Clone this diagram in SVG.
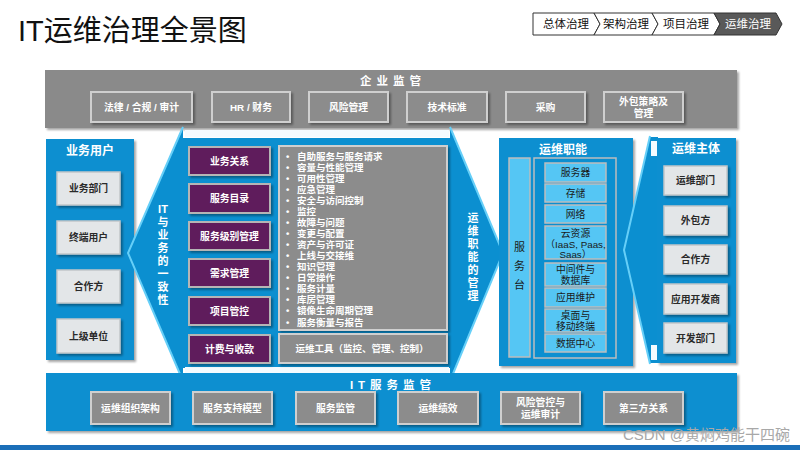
<svg xmlns="http://www.w3.org/2000/svg" width="800" height="450" viewBox="0 0 800 450">
<defs>
<filter id="sh" x="-10%" y="-10%" width="130%" height="130%">
<feDropShadow dx="2" dy="2" stdDeviation="1.2" flood-color="#000" flood-opacity="0.35"/>
</filter>
<style>
text{font-family:"Liberation Sans","Noto Sans CJK SC",sans-serif;}
.t{font-size:29px;fill:#111;}
.bc{fill:#fff;stroke:#333;stroke-width:1;}
.bcd{fill:#595959;stroke:#333;stroke-width:1;}
.bct{font-size:11.5px;fill:#111;text-anchor:middle;}
.blue{fill:#0b8fd0;}
.grayband{fill:#8a8a8a;}
.gbox{fill:#8c8c8c;stroke:#cfcfcf;stroke-width:2;}
.gtx{font-size:9.8px;fill:#fff;font-weight:bold;text-anchor:middle;}
.lbox{fill:#e3e6e8;stroke:#c2c6c9;stroke-width:1.5;}
.ltx{font-size:9.8px;fill:#2a2a2a;font-weight:bold;text-anchor:middle;}
.pbox{fill:#5e1c5c;stroke:#b5b5b5;stroke-width:2;}
.ptx{font-size:9.8px;fill:#fff;font-weight:bold;text-anchor:middle;}
.head{font-size:12px;fill:#fff;font-weight:bold;text-anchor:middle;}
.sp{font-size:11.5px;fill:#fff;font-weight:bold;text-anchor:middle;letter-spacing:5px;}
.vt{font-size:11px;fill:#fff;font-weight:bold;text-anchor:middle;}
.lst{font-size:9.5px;fill:#fff;font-weight:bold;}
.cbox{fill:#55c6f4;stroke:#bdbdbd;stroke-width:1.5;}
.ctx{font-size:9.8px;fill:#1a1a1a;text-anchor:middle;}
.edge{fill:none;stroke:#66cff8;stroke-width:2;}
</style>
</defs>

<text class="t" x="18" y="41">IT运维治理全景图</text>

<g id="breadcrumb">
<polygon class="bc" points="533,13 594,13 600,24 594,35 533,35"/>
<polygon class="bc" points="594,13 652,13 658,24 652,35 594,35 600,24"/>
<polygon class="bc" points="652,13 714,13 720,24 714,35 652,35 658,24"/>
<polygon class="bcd" points="714,13 776,13 782,24 776,35 714,35 720,24"/>
<text class="bct" x="566" y="28">总体治理</text>
<text class="bct" x="626" y="28">架构治理</text>
<text class="bct" x="686" y="28">项目治理</text>
<text class="bct" x="748" y="28" style="fill:#fff">运维治理</text>
</g>

<g id="enterprise">
<rect class="grayband" x="45" y="70" width="692" height="58" filter="url(#sh)"/>
<text class="sp" x="393" y="85">企业监管</text>
<g id="e1"><rect class="gbox" x="91" y="92" width="101" height="30" filter="url(#sh)"/><text class="gtx" x="141.5" y="110.5">法律 / 合规  / 审计</text></g>
<g id="e2"><rect class="gbox" x="212" y="92" width="78" height="30" filter="url(#sh)"/><text class="gtx" x="251" y="110.5">HR / 财务</text></g>
<g id="e3"><rect class="gbox" x="309" y="92" width="79" height="30" filter="url(#sh)"/><text class="gtx" x="348.5" y="110.5">风险管理</text></g>
<g id="e4"><rect class="gbox" x="407" y="92" width="80" height="30" filter="url(#sh)"/><text class="gtx" x="447" y="110.5">技术标准</text></g>
<g id="e5"><rect class="gbox" x="506" y="92" width="79" height="30" filter="url(#sh)"/><text class="gtx" x="545.5" y="110.5">采购</text></g>
<g id="e6"><rect class="gbox" x="604" y="92" width="79" height="30" filter="url(#sh)"/><text class="gtx" x="643.5" y="104.5">外包策略及</text><text class="gtx" x="643.5" y="116.5">管理</text></g>
</g>

<g id="bizusers">
<rect class="blue" x="46" y="139" width="88" height="221" filter="url(#sh)"/>
<text class="head" x="90" y="155">业务用户</text>
<g id="u1"><rect class="lbox" x="57" y="172" width="63" height="33" filter="url(#sh)"/><text class="ltx" x="88.5" y="192">业务部门</text></g>
<g id="u2"><rect class="lbox" x="57" y="221" width="63" height="33" filter="url(#sh)"/><text class="ltx" x="88.5" y="241">终端用户</text></g>
<g id="u3"><rect class="lbox" x="57" y="270" width="63" height="33" filter="url(#sh)"/><text class="ltx" x="88.5" y="290">合作方</text></g>
<g id="u4"><rect class="lbox" x="57" y="319" width="63" height="34" filter="url(#sh)"/><text class="ltx" x="88.5" y="339.5">上级单位</text></g>
</g>

<g id="center">
<polygon class="blue" points="183,128 128,253 183,380"/>
<rect class="blue" x="183" y="138" width="267" height="230"/>
<polygon class="blue" points="450,128 503,253 450,380"/>
<rect x="185" y="130" width="264" height="7" fill="#f4fbff"/>
<rect x="185" y="367" width="264" height="6" fill="#f4fbff"/>
<polyline class="edge" points="183,127 128,253 183,381"/>
<polyline class="edge" points="450,127 503,253 450,381"/>
<g id="vt1">
<text class="vt" x="163" y="213">IT</text>
<text class="vt" x="163" y="226">与</text>
<text class="vt" x="163" y="239">业</text>
<text class="vt" x="163" y="252">务</text>
<text class="vt" x="163" y="265">的</text>
<text class="vt" x="163" y="278">一</text>
<text class="vt" x="163" y="291">致</text>
<text class="vt" x="163" y="304">性</text>
</g>
<g id="vt2">
<text class="vt" x="473" y="222">运</text>
<text class="vt" x="473" y="235">维</text>
<text class="vt" x="473" y="248">职</text>
<text class="vt" x="473" y="261">能</text>
<text class="vt" x="473" y="274">的</text>
<text class="vt" x="473" y="287">管</text>
<text class="vt" x="473" y="300">理</text>
</g>
<g id="p1"><rect class="pbox" x="189" y="147" width="81" height="28" filter="url(#sh)"/><text class="ptx" x="229.5" y="164.5">业务关系</text></g>
<g id="p2"><rect class="pbox" x="189" y="184" width="81" height="29" filter="url(#sh)"/><text class="ptx" x="229.5" y="202">服务目录</text></g>
<g id="p3"><rect class="pbox" x="189" y="222" width="81" height="28" filter="url(#sh)"/><text class="ptx" x="229.5" y="239.5">服务级别管理</text></g>
<g id="p4"><rect class="pbox" x="189" y="259" width="81" height="28" filter="url(#sh)"/><text class="ptx" x="229.5" y="276.5">需求管理</text></g>
<g id="p5"><rect class="pbox" x="189" y="297" width="81" height="28" filter="url(#sh)"/><text class="ptx" x="229.5" y="314.5">项目管控</text></g>
<g id="p6"><rect class="pbox" x="189" y="335" width="81" height="28" filter="url(#sh)"/><text class="ptx" x="229.5" y="352.5">计费与收款</text></g>
<g id="list">
<rect class="gbox" x="279" y="146" width="168" height="184" filter="url(#sh)"/>
<text class="lst" x="286" y="159.5">•<tspan x="286" dy="11.07">•</tspan><tspan x="286" dy="11.07">•</tspan><tspan x="286" dy="11.07">•</tspan><tspan x="286" dy="11.07">•</tspan><tspan x="286" dy="11.07">•</tspan><tspan x="286" dy="11.07">•</tspan><tspan x="286" dy="11.07">•</tspan><tspan x="286" dy="11.07">•</tspan><tspan x="286" dy="11.07">•</tspan><tspan x="286" dy="11.07">•</tspan><tspan x="286" dy="11.07">•</tspan><tspan x="286" dy="11.07">•</tspan><tspan x="286" dy="11.07">•</tspan><tspan x="286" dy="11.07">•</tspan><tspan x="286" dy="11.07">•</tspan></text>
<text class="lst" x="297" y="159.5">自助服务与服务请求<tspan x="297" dy="11.07">容量与性能管理</tspan><tspan x="297" dy="11.07">可用性管理</tspan><tspan x="297" dy="11.07">应急管理</tspan><tspan x="297" dy="11.07">安全与访问控制</tspan><tspan x="297" dy="11.07">监控</tspan><tspan x="297" dy="11.07">故障与问题</tspan><tspan x="297" dy="11.07">变更与配置</tspan><tspan x="297" dy="11.07">资产与许可证</tspan><tspan x="297" dy="11.07">上线与交接维</tspan><tspan x="297" dy="11.07">知识管理</tspan><tspan x="297" dy="11.07">日常操作</tspan><tspan x="297" dy="11.07">服务计量</tspan><tspan x="297" dy="11.07">库房管理</tspan><tspan x="297" dy="11.07">镜像生命周期管理</tspan><tspan x="297" dy="11.07">服务衡量与报告</tspan></text>
</g>
<g id="tools"><rect class="gbox" x="279" y="334" width="168" height="29" filter="url(#sh)"/><text class="gtx" x="362" y="352" style="font-size:9.5px">运维工具（监控、管理、控制）</text></g>
</g>

<g id="opsfunc">
<rect class="blue" x="499" y="138" width="134" height="228" filter="url(#sh)"/>
<text class="head" x="563" y="154">运维职能</text>
<g id="desk"><rect class="cbox" x="509" y="158" width="21" height="199"/>
<text class="ctx" x="519.5" y="251" style="font-size:11px">服</text>
<text class="ctx" x="519.5" y="270" style="font-size:11px">务</text>
<text class="ctx" x="519.5" y="289" style="font-size:11px">台</text></g>
<rect x="534" y="158" width="82" height="200" fill="#0b8fd0" stroke="#bdbdbd" stroke-width="1.5"/>
<g id="f1"><rect class="cbox" x="545" y="163" width="61" height="19"/><text class="ctx" x="575.5" y="176">服务器</text></g>
<g id="f2"><rect class="cbox" x="545" y="184" width="61" height="18"/><text class="ctx" x="575.5" y="196.5">存储</text></g>
<g id="f3"><rect class="cbox" x="545" y="205" width="61" height="18"/><text class="ctx" x="575.5" y="217.5">网络</text></g>
<g id="f4"><rect class="cbox" x="545" y="226" width="61" height="33"/><text class="ctx" x="575.5" y="236.5">云资源</text><text class="ctx" x="575.5" y="247.5">（IaaS, Paas,</text><text class="ctx" x="575.5" y="257.5">Saas）</text></g>
<g id="f5"><rect class="cbox" x="545" y="263" width="61" height="23"/><text class="ctx" x="575.5" y="273">中间件与</text><text class="ctx" x="575.5" y="284">数据库</text></g>
<g id="f6"><rect class="cbox" x="545" y="288" width="61" height="19"/><text class="ctx" x="575.5" y="301">应用维护</text></g>
<g id="f7"><rect class="cbox" x="545" y="309" width="61" height="23"/><text class="ctx" x="575.5" y="319">桌面与</text><text class="ctx" x="575.5" y="330">移动终端</text></g>
<g id="f8"><rect class="cbox" x="545" y="334" width="61" height="18"/><text class="ctx" x="575.5" y="347">数据中心</text></g>
</g>

<g id="opsmain">
<polygon class="blue" points="650,137 624,250 650,363 658,363 658,137"/>
<polyline class="edge" points="650,136 624,250 650,364"/>
<rect x="651" y="141" width="6" height="15" fill="#f4fbff"/>
<rect x="651" y="345" width="6" height="15" fill="#f4fbff"/>
<rect class="blue" x="657" y="138" width="79" height="225" filter="url(#sh)"/>
<text class="head" x="696" y="153">运维主体</text>
<g id="m1"><rect class="lbox" x="664" y="166" width="63" height="29" filter="url(#sh)"/><text class="ltx" x="695.5" y="184">运维部门</text></g>
<g id="m2"><rect class="lbox" x="664" y="206" width="63" height="29" filter="url(#sh)"/><text class="ltx" x="695.5" y="224">外包方</text></g>
<g id="m3"><rect class="lbox" x="664" y="245" width="63" height="29" filter="url(#sh)"/><text class="ltx" x="695.5" y="263">合作方</text></g>
<g id="m4"><rect class="lbox" x="664" y="284" width="63" height="30" filter="url(#sh)"/><text class="ltx" x="695.5" y="302.5">应用开发商</text></g>
<g id="m5"><rect class="lbox" x="664" y="323" width="63" height="30" filter="url(#sh)"/><text class="ltx" x="695.5" y="341.5">开发部门</text></g>
</g>

<g id="itsup">
<rect class="blue" x="46" y="373" width="691" height="58" filter="url(#sh)"/>
<text class="sp" x="393" y="389">IT服务监管</text>
<g id="b1"><rect class="gbox" x="91" y="392" width="79" height="32" filter="url(#sh)"/><text class="gtx" x="130.5" y="411.5">运维组织架构</text></g>
<g id="b2"><rect class="gbox" x="193" y="392" width="79" height="32" filter="url(#sh)"/><text class="gtx" x="232.5" y="411.5">服务支持模型</text></g>
<g id="b3"><rect class="gbox" x="296" y="392" width="79" height="32" filter="url(#sh)"/><text class="gtx" x="335.5" y="411.5">服务监管</text></g>
<g id="b4"><rect class="gbox" x="398" y="392" width="80" height="32" filter="url(#sh)"/><text class="gtx" x="438" y="411.5">运维绩效</text></g>
<g id="b5"><rect class="gbox" x="501" y="392" width="79" height="32" filter="url(#sh)"/><text class="gtx" x="540.5" y="405.5">风险管控与</text><text class="gtx" x="540.5" y="418">运维审计</text></g>
<g id="b6"><rect class="gbox" x="604" y="392" width="79" height="32" filter="url(#sh)"/><text class="gtx" x="643.5" y="411.5">第三方关系</text></g>
</g>

<rect x="0" y="445" width="800" height="5" fill="#1b6fb8"/>
<text x="623" y="440" style="font-size:15px;fill:#a8a8a8;">CSDN @黄焖鸡能干四碗</text>
</svg>
